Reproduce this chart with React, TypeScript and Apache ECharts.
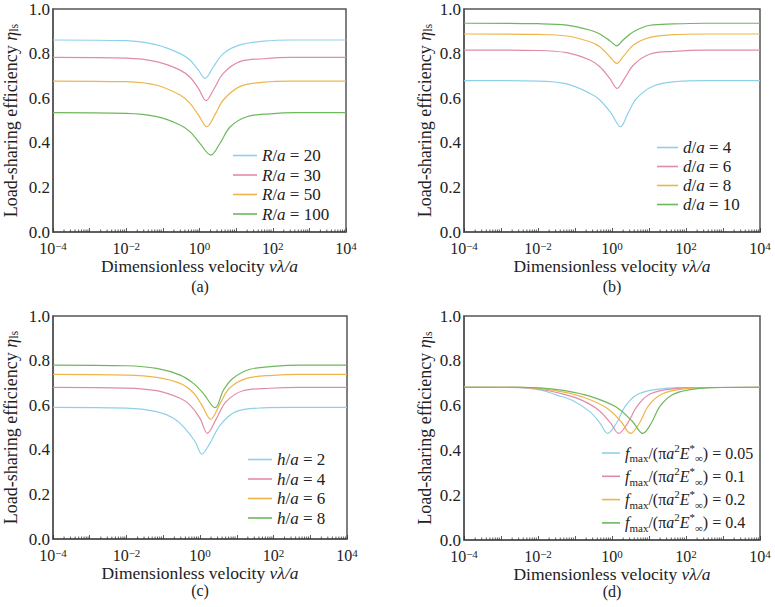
import React, { useEffect, useRef } from 'react';
import * as echarts from 'echarts';

const FONT = 'Liberation Serif';
const COLORS = ['#8dd1e8', '#e08ca9', '#efb54c', '#6db85c'];
const TEXT = '#222';
const FRAME = '#555';

// [log10(vλ/a), η_ls]
const R20 = [[-4, .861], [-2, .858], [-1.17, .839], [-0.53, .800], [-0.26, .771], [-0.03, .726], [0.15, .689], [0.38, .741], [0.65, .800], [1.1, .839], [1.75, .856], [2.5, .861], [4, .861]];
const R30 = [[-4, .783], [-2, .780], [-1.17, .764], [-0.53, .726], [-0.26, .694], [-0.03, .644], [0.18, .589], [0.38, .637], [0.65, .711], [1.1, .764], [1.75, .777], [2.5, .783], [4, .783]];
const R50 = [[-4, .677], [-2, .674], [-1.17, .658], [-0.53, .614], [-0.26, .577], [-0.03, .525], [0.2, .472], [0.42, .525], [0.65, .592], [1.1, .652], [1.75, .672], [2.5, .677], [4, .677]];
const R100 = [[-4, .535], [-2, .532], [-1.17, .517], [-0.53, .480], [-0.26, .450], [0.0, .400], [0.31, .345], [0.56, .398], [0.84, .472], [1.29, .517], [1.93, .530], [2.6, .535], [4, .535]];

const D4 = [[-4, .679], [-2, .677], [-1.22, .664], [-0.6, .622], [-0.33, .592], [-0.02, .532], [0.23, .472], [0.43, .532], [0.67, .600], [1.12, .655], [1.75, .675], [2.5, .679], [4, .679]];
const D6 = [[-4, .816], [-2, .814], [-1.22, .804], [-0.6, .771], [-0.33, .741], [-0.06, .689], [0.14, .644], [0.34, .689], [0.58, .749], [1.03, .798], [1.66, .810], [2.5, .816], [4, .816]];
const D8 = [[-4, .888], [-2, .886], [-1.22, .879], [-0.6, .853], [-0.33, .831], [-0.06, .786], [0.13, .756], [0.3, .786], [0.58, .839], [1.03, .873], [1.66, .885], [2.5, .888], [4, .888]];
const D10 = [[-4, .936], [-2, .934], [-1.22, .928], [-0.6, .906], [-0.33, .888], [-0.06, .858], [0.13, .835], [0.3, .861], [0.58, .898], [1.03, .927], [1.66, .933], [2.5, .936], [4, .936]];

const H2 = [[-4, .590], [-2, .587], [-1.18, .571], [-0.72, .541], [-0.41, .496], [-0.13, .436], [0.05, .381], [0.27, .429], [0.55, .511], [0.98, .571], [1.72, .588], [2.5, .590], [4, .590]];
const H4 = [[-4, .680], [-2, .677], [-1.18, .665], [-0.54, .631], [-0.27, .600], [0.0, .541], [0.2, .474], [0.45, .541], [0.71, .616], [1.17, .665], [1.9, .676], [2.7, .680], [4, .680]];
const H6 = [[-4, .738], [-2, .735], [-1.18, .725], [-0.54, .698], [-0.18, .656], [0.05, .600], [0.29, .537], [0.55, .608], [0.8, .676], [1.27, .720], [1.98, .734], [2.7, .738], [4, .738]];
const H8 = [[-4, .780], [-2, .777], [-1.18, .765], [-0.54, .735], [-0.18, .698], [0.09, .653], [0.41, .589], [0.64, .668], [0.89, .720], [1.36, .761], [1.98, .774], [2.7, .780], [4, .780]];

const F005 = [[-4, .682], [-2.5, .680], [-1.95, .670], [-1.49, .647], [-1.05, .622], [-0.6, .573], [-0.32, .521], [-0.12, .476], [0.12, .521], [0.35, .595], [0.66, .647], [1.11, .670], [1.8, .680], [4, .682]];
const F01 = [[-4, .682], [-2.5, .681], [-1.95, .673], [-1.4, .655], [-0.9, .630], [-0.4, .585], [-0.05, .525], [0.18, .476], [0.42, .521], [0.67, .595], [0.98, .647], [1.43, .670], [2.1, .680], [4, .682]];
const F02 = [[-4, .682], [-2.5, .681], [-1.95, .676], [-1.3, .660], [-0.75, .636], [-0.15, .590], [0.25, .528], [0.5, .476], [0.74, .521], [0.97, .595], [1.3, .647], [1.75, .670], [2.4, .680], [4, .682]];
const F04 = [[-4, .682], [-2.5, .682], [-1.95, .679], [-1.2, .665], [-0.6, .642], [0.1, .595], [0.55, .530], [0.83, .476], [1.06, .521], [1.29, .595], [1.62, .647], [2.07, .670], [2.7, .680], [4, .682]];

const NAMES_A = ['R/a = 20', 'R/a = 30', 'R/a = 50', 'R/a = 100'];
const NAMES_B = ['d/a = 4', 'd/a = 6', 'd/a = 8', 'd/a = 10'];
const NAMES_C = ['h/a = 2', 'h/a = 4', 'h/a = 6', 'h/a = 8'];
const NAMES_D = ['fmax/(πa2E*∞) = 0.05', 'fmax/(πa2E*∞) = 0.1', 'fmax/(πa2E*∞) = 0.2', 'fmax/(πa2E*∞) = 0.4'];
const PANEL_LABELS = ['(a)', '(b)', '(c)', '(d)'];

const PANELS = [
  { names: NAMES_A, data: [R20, R30, R50, R100] },
  { names: NAMES_B, data: [D4, D6, D8, D10] },
  { names: NAMES_C, data: [H2, H4, H6, H8] },
  { names: NAMES_D, data: [F005, F01, F02, F04] },
];

const X_MIN_EXP = -4;
const X_MAX_EXP = 4;

const GRIDS = [
  { left: 53, top: 9, width: 293, height: 223 },
  { left: 464, top: 9, width: 296, height: 223 },
  { left: 53, top: 316, width: 294, height: 223 },
  { left: 464, top: 316, width: 296, height: 224 },
];
const LEGENDS = [
  { left: 228, top: 142, itemWidth: 24, itemGap: 2.5, lh: 18, fs: 17 },
  { left: 652, top: 134, itemWidth: 21, itemGap: 2, lh: 18, fs: 17 },
  { left: 243, top: 446, itemWidth: 24, itemGap: 2.5, lh: 18, fs: 17 },
  { left: 597, top: 437, itemWidth: 18, itemGap: 1.3, lh: 22, fs: 16 },
];
const LABEL_POS = [[200, 286], [612, 286], [200, 590], [612, 591]];
const YNAME_GAP = [33, 30, 33, 30];

function rich(size: number, lh: number) {
  return {
    n: { fontFamily: FONT, fontSize: size, color: TEXT, lineHeight: lh },
    i: { fontFamily: FONT, fontSize: size, fontStyle: 'italic', color: TEXT, lineHeight: lh },
    sub: { fontFamily: FONT, fontSize: Math.round(size * 0.66), color: TEXT, verticalAlign: 'bottom', lineHeight: 10 },
    sup: { fontFamily: FONT, fontSize: Math.round(size * 0.66), color: TEXT, verticalAlign: 'top', lineHeight: 10 },
  };
}

function legendRich(name: string) {
  if (name.startsWith('fmax')) {
    const v = name.split('= ')[1];
    return `{i|f}{sub|max}{n|/(π}{i|a}{sup|2}{i|E}{sup|*}{sub|∞}{n|) = ${v}}`;
  }
  const m = name.match(/^(\w)\/a = (.+)$/);
  if (m) return `{i|${m[1]}}{n|/}{i|a}{n| = ${m[2]}}`;
  return name;
}

function App() {
  const ref = useRef<HTMLDivElement>(null);
  useEffect(() => {
    if (!ref.current) return;
    const chart = echarts.init(ref.current, null, { renderer: 'svg' });

    const minorTicks: number[][] = [];
    for (let k = X_MIN_EXP; k < X_MAX_EXP; k++) {
      for (let m = 2; m <= 9; m++) minorTicks.push([m * Math.pow(10, k), 0]);
    }

    const series: any[] = [];
    PANELS.forEach((p, pi) => {
      p.data.forEach((d, si) => {
        series.push({
          type: 'line',
          name: p.names[si],
          xAxisIndex: pi,
          yAxisIndex: pi,
          data: d.map(([e, v]) => [Math.pow(10, e), v]),
          symbol: 'none',
          showSymbol: false,
          smooth: 0.35,
          lineStyle: { color: COLORS[si], width: 1.2 },
          itemStyle: { color: COLORS[si] },
          z: 3,
        });
      });
      series.push({
        type: 'custom',
        xAxisIndex: pi,
        yAxisIndex: pi,
        silent: true,
        data: minorTicks,
        encode: { x: 0, y: 1 },
        renderItem: (params: any, api: any) => {
          const c = api.coord([api.value(0), 0]);
          return {
            type: 'line',
            shape: { x1: c[0], y1: c[1], x2: c[0], y2: c[1] - 2.5 },
            style: { stroke: '#333', lineWidth: 0.8 },
          };
        },
        z: 4,
      });
    });

    const option: any = {
      animation: false,
      backgroundColor: '#fff',
      grid: GRIDS.map((g) => ({ ...g, show: true, borderColor: FRAME, borderWidth: 1.5, backgroundColor: 'transparent' })),
      xAxis: GRIDS.map((g, i) => ({
        type: 'log',
        logBase: 10,
        gridIndex: i,
        min: Math.pow(10, X_MIN_EXP),
        max: Math.pow(10, X_MAX_EXP),
        interval: 1,
        axisLine: { show: true, lineStyle: { color: FRAME, width: 1.5 } },
        axisTick: { show: true, inside: true, length: 4, lineStyle: { color: '#333', width: 0.8 } },
        splitLine: { show: false },
        axisLabel: {
          margin: 8,
          formatter: (v: number) => {
            const e = Math.round(Math.log10(v));
            if (e % 2 !== 0) return '';
            return `{b|10}{s|${e < 0 ? '−' : ''}${Math.abs(e)}}`;
          },
          rich: {
            b: { fontFamily: FONT, fontSize: 16, color: TEXT, lineHeight: 16 },
            s: { fontFamily: FONT, fontSize: 11, color: TEXT, verticalAlign: 'top', lineHeight: 11 },
          },
        },
        name: '{n|Dimensionless velocity }{i|vλ/a}',
        nameLocation: 'middle',
        nameGap: 27,
        nameMoveOverlap: false,
        nameTextStyle: { rich: rich(17.5, 14) },
      })),
      yAxis: GRIDS.map((g, i) => ({
        type: 'value',
        gridIndex: i,
        min: 0,
        max: 1,
        interval: 0.2,
        axisLine: { show: true, lineStyle: { color: FRAME, width: 1.5 } },
        axisTick: { show: false },
        splitLine: { show: false },
        axisLabel: {
          margin: 3,
          fontFamily: FONT,
          fontSize: 17,
          lineHeight: 16,
          color: TEXT,
          formatter: (v: number) => v.toFixed(1),
        },
        name: '{n|Load-sharing efficiency }{i|η}{sub|ls}',
        nameLocation: 'middle',
        nameGap: YNAME_GAP[i],
        nameMoveOverlap: false,
        nameTextStyle: { rich: rich(18, 19) },
      })),
      legend: LEGENDS.map((l, i) => ({
        orient: 'vertical',
        left: l.left,
        top: l.top,
        icon: 'rect',
        itemWidth: l.itemWidth,
        itemHeight: 1.6,
        itemGap: l.itemGap,
        data: PANELS[i].names,
        formatter: (name: string) => legendRich(name),
        textStyle: { rich: rich(l.fs, l.lh) },
        selectedMode: false,
      })),
      graphic: LABEL_POS.map(([x, y], i) => ({
        type: 'text',
        x,
        y,
        style: {
          text: PANEL_LABELS[i],
          fill: TEXT,
          font: `16px "${FONT}"`,
          align: 'center',
          verticalAlign: 'middle',
          textAlign: 'center',
          textVerticalAlign: 'middle',
        },
      })),
      series,
    };
    chart.setOption(option);
    return () => chart.dispose();
  }, []);
  return <div ref={ref} style={{ position: 'fixed', left: 0, top: 0, width: 775, height: 607 }} />;
}

export default App;
